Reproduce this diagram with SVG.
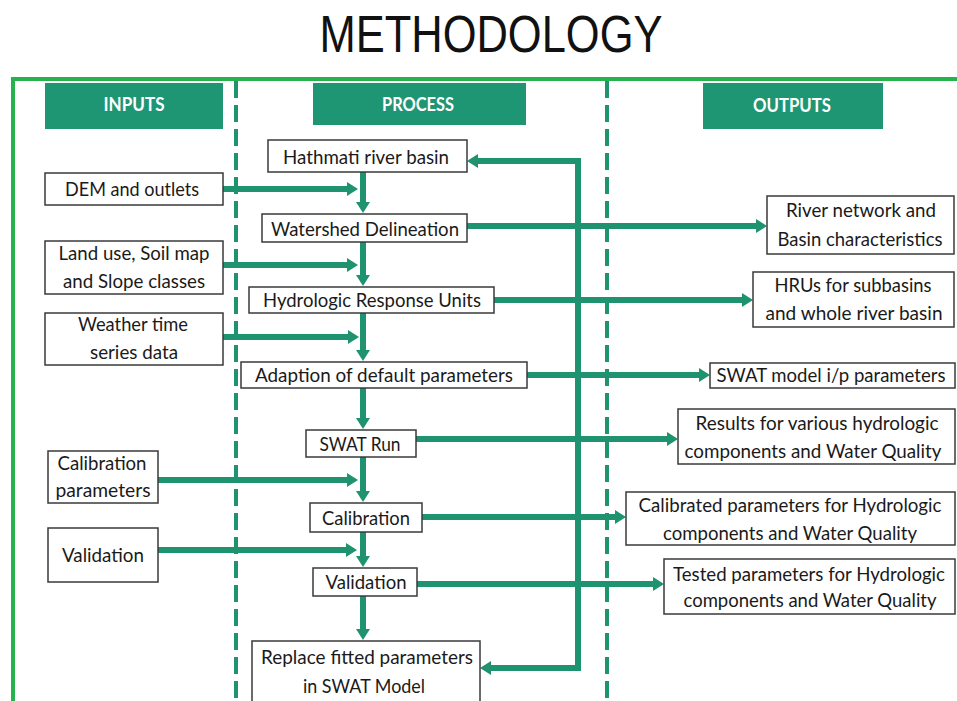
<svg xmlns="http://www.w3.org/2000/svg" width="957" height="701" viewBox="0 0 957 701">
<defs>
<style>
.bg{fill:#ffffff}
.frame{fill:none;stroke:#26b24c;stroke-width:4}
.dash{fill:none;stroke:#1f9370;stroke-width:4;stroke-dasharray:17 7}
.hdr{fill:#1f9673}
.hdrt{font-family:Lato,"Open Sans",sans-serif;font-weight:bold;font-size:19px;fill:#ffffff;text-anchor:middle}
.box{fill:#ffffff;stroke:#3a3a3a;stroke-width:1.5}
.t{font-family:Lato,"Open Sans",sans-serif;font-size:20px;fill:#1a1a1a;text-anchor:middle}
.s{font-size:18.5px}
.title{font-family:"Liberation Sans",Arial,sans-serif;font-size:52px;fill:#111111;text-anchor:middle}
.arr{fill:none;stroke:#1f9370;stroke-width:6;marker-end:url(#ah)}
</style>
<marker id="ah" markerUnits="userSpaceOnUse" markerWidth="12" markerHeight="14" refX="2" refY="7" orient="auto">
<path d="M0,0 L11,7 L0,14 Z" fill="#1f9370"/>
</marker>
</defs>
<rect class="bg" x="0" y="0" width="957" height="701"/>
<text class="title" x="491" y="52" textLength="343" lengthAdjust="spacingAndGlyphs">METHODOLOGY</text>
<path class="frame" d="M13,701 V79 H957"/>
<line class="dash" x1="236" y1="81" x2="236" y2="701"/>
<line class="dash" x1="607" y1="81" x2="607" y2="701"/>

<g id="hdr-inputs"><rect class="hdr" x="45" y="83" width="178" height="46"/><text class="hdrt" x="134" y="111" textLength="61" lengthAdjust="spacingAndGlyphs">INPUTS</text></g>
<g id="hdr-process"><rect class="hdr" x="313" y="83" width="213" height="42"/><text class="hdrt" x="418" y="111" textLength="72" lengthAdjust="spacingAndGlyphs">PROCESS</text></g>
<g id="hdr-outputs"><rect class="hdr" x="703" y="83" width="180" height="46"/><text class="hdrt" x="792" y="112" textLength="78" lengthAdjust="spacingAndGlyphs">OUTPUTS</text></g>

<g id="connectors">
<line class="arr" x1="363" y1="172" x2="363" y2="204"/>
<line class="arr" x1="363" y1="242" x2="363" y2="277"/>
<line class="arr" x1="363" y1="313" x2="363" y2="352"/>
<line class="arr" x1="363" y1="388" x2="363" y2="420"/>
<line class="arr" x1="363" y1="457" x2="363" y2="493"/>
<line class="arr" x1="363" y1="532" x2="363" y2="558"/>
<line class="arr" x1="363" y1="596" x2="363" y2="631"/>
<line class="arr" x1="223" y1="189" x2="349" y2="189"/>
<line class="arr" x1="223" y1="265" x2="349" y2="265"/>
<line class="arr" x1="223" y1="337" x2="350" y2="337"/>
<line class="arr" x1="158" y1="480" x2="349" y2="480"/>
<line class="arr" x1="158" y1="550" x2="348" y2="550"/>
<line class="arr" x1="467" y1="226" x2="758" y2="226"/>
<line class="arr" x1="494" y1="300" x2="744" y2="300"/>
<line class="arr" x1="527" y1="375" x2="701" y2="375"/>
<line class="arr" x1="416" y1="439" x2="669" y2="439"/>
<line class="arr" x1="422" y1="517" x2="617" y2="517"/>
<line class="arr" x1="417" y1="584" x2="655" y2="584"/>
<path class="arr" d="M578,671 V161 H476"/>
<line class="arr" x1="578" y1="668" x2="489" y2="668"/>
</g>

<g id="n-hathmati"><rect class="box" x="268" y="140" width="199" height="32"/><text class="t" x="366" y="164" textLength="166" lengthAdjust="spacingAndGlyphs">Hathmati river basin</text></g>
<g id="n-watershed"><rect class="box" x="262" y="214" width="205" height="28"/><text class="t" x="365" y="236" textLength="188" lengthAdjust="spacingAndGlyphs">Watershed Delineation</text></g>
<g id="n-hru"><rect class="box" x="249" y="287" width="245" height="26"/><text class="t" x="372" y="307" textLength="218" lengthAdjust="spacingAndGlyphs">Hydrologic Response Units</text></g>
<g id="n-adaption"><rect class="box" x="241" y="362" width="286" height="26"/><text class="t" x="384" y="382" textLength="258" lengthAdjust="spacingAndGlyphs">Adaption of default parameters</text></g>
<g id="n-swatrun"><rect class="box" x="306" y="430" width="110" height="27"/><text class="t" x="360" y="451" textLength="81" lengthAdjust="spacingAndGlyphs">SWAT Run</text></g>
<g id="n-calibration"><rect class="box" x="310" y="503" width="112" height="29"/><text class="t" x="366" y="525" textLength="88" lengthAdjust="spacingAndGlyphs">Calibration</text></g>
<g id="n-validation"><rect class="box" x="313" y="568" width="104" height="28"/><text class="t" x="366" y="589" textLength="81" lengthAdjust="spacingAndGlyphs">Validation</text></g>
<g id="n-replace"><rect class="box" x="252" y="641" width="228" height="62"/><text class="t" x="367" y="664" textLength="212" lengthAdjust="spacingAndGlyphs">Replace fitted parameters</text><text class="t" x="364" y="693" textLength="122" lengthAdjust="spacingAndGlyphs">in SWAT Model</text></g>

<g id="in-dem"><rect class="box" x="45" y="173" width="178" height="32"/><text class="t" x="132" y="196" textLength="134" lengthAdjust="spacingAndGlyphs">DEM and outlets</text></g>
<g id="in-landuse"><rect class="box" x="45" y="241" width="178" height="53"/><text class="t" x="134" y="260" textLength="151" lengthAdjust="spacingAndGlyphs">Land use, Soil map</text><text class="t" x="134" y="288" textLength="142" lengthAdjust="spacingAndGlyphs">and Slope classes</text></g>
<g id="in-weather"><rect class="box" x="45" y="313" width="178" height="52"/><text class="t" x="133" y="331" textLength="110" lengthAdjust="spacingAndGlyphs">Weather time</text><text class="t" x="134" y="359" textLength="88" lengthAdjust="spacingAndGlyphs">series data</text></g>
<g id="in-calib"><rect class="box" x="48" y="451" width="110" height="52"/><text class="t" x="102" y="470" textLength="89" lengthAdjust="spacingAndGlyphs">Calibration</text><text class="t" x="103" y="497" textLength="95" lengthAdjust="spacingAndGlyphs">parameters</text></g>
<g id="in-valid"><rect class="box" x="48" y="528" width="110" height="54"/><text class="t" x="103" y="562" textLength="82" lengthAdjust="spacingAndGlyphs">Validation</text></g>

<g id="out-river"><rect class="box" x="767" y="196" width="187" height="58"/><text class="t" x="861" y="217" textLength="150" lengthAdjust="spacingAndGlyphs">River network and</text><text class="t" x="860" y="246" textLength="165" lengthAdjust="spacingAndGlyphs">Basin characteristics</text></g>
<g id="out-hrus"><rect class="box" x="753" y="272" width="201" height="55"/><text class="t" x="853" y="292" textLength="157" lengthAdjust="spacingAndGlyphs">HRUs for subbasins</text><text class="t" x="854" y="320" textLength="177" lengthAdjust="spacingAndGlyphs">and whole river basin</text></g>
<g id="out-swatip"><rect class="box" x="710" y="363" width="245" height="25"/><text class="t s" x="831" y="382" textLength="229" lengthAdjust="spacingAndGlyphs">SWAT model i/p parameters</text></g>
<g id="out-results"><rect class="box" x="678" y="409" width="277" height="55"/><text class="t" x="817" y="430" textLength="243" lengthAdjust="spacingAndGlyphs">Results for various hydrologic</text><text class="t" x="813" y="458" textLength="257" lengthAdjust="spacingAndGlyphs">components and Water Quality</text></g>
<g id="out-calibrated"><rect class="box" x="626" y="492" width="329" height="53"/><text class="t s" x="790" y="512" textLength="303" lengthAdjust="spacingAndGlyphs">Calibrated parameters for Hydrologic</text><text class="t" x="790" y="540" textLength="254" lengthAdjust="spacingAndGlyphs">components and Water Quality</text></g>
<g id="out-tested"><rect class="box" x="664" y="559" width="291" height="55"/><text class="t s" x="809" y="581" textLength="272" lengthAdjust="spacingAndGlyphs">Tested parameters for Hydrologic</text><text class="t" x="810" y="607" textLength="253" lengthAdjust="spacingAndGlyphs">components and Water Quality</text></g>
</svg>
